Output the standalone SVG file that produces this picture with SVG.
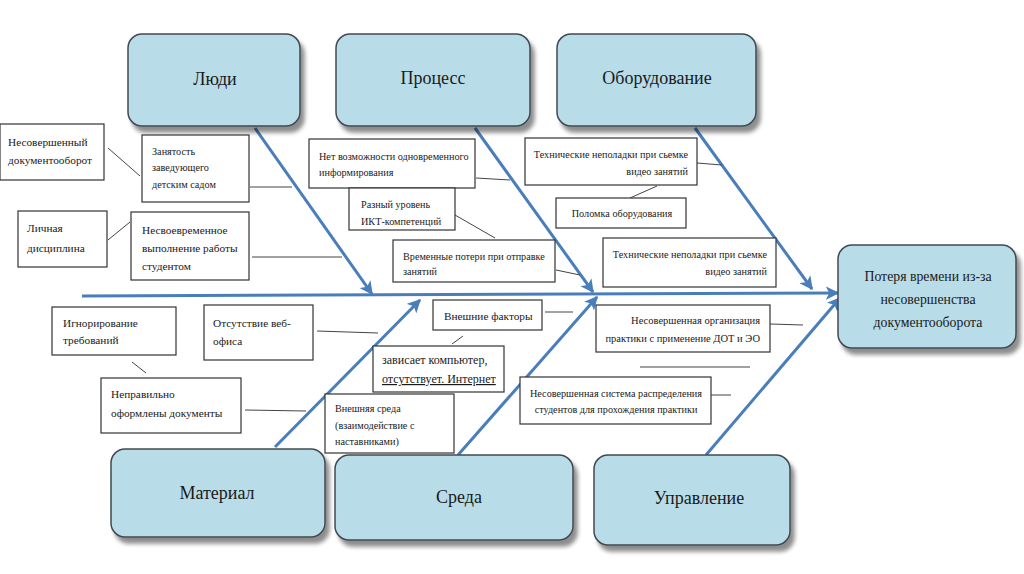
<svg xmlns="http://www.w3.org/2000/svg" width="1024" height="574" viewBox="0 0 1024 574" font-family="'Liberation Serif', 'Times New Roman', serif">
<defs>
<marker id="ah" viewBox="0 0 10 10" refX="9" refY="5" markerWidth="4.5" markerHeight="4.5" orient="auto" markerUnits="strokeWidth">
<path d="M0,0 L10,5 L0,10 L2.5,5 z" fill="#4a7ebb"/>
</marker>
<filter id="sh" x="-10%" y="-10%" width="130%" height="140%">
<feGaussianBlur in="SourceAlpha" stdDeviation="2"/>
<feOffset dx="4" dy="6" result="o"/>
<feComponentTransfer><feFuncA type="linear" slope="0.45"/></feComponentTransfer>
<feMerge><feMergeNode/><feMergeNode in="SourceGraphic"/></feMerge>
</filter>
</defs>
<style>
text{fill:#1a1a1a}
.cat{fill:#b8dce8;stroke:#404a50;stroke-width:1.5;filter:url(#sh)}
.ct{font-size:18px;text-anchor:middle}
.bx{fill:#fff;stroke:#333;stroke-width:1.2}
.t{font-size:11.3px}
.s{font-size:10.2px}
.r{text-anchor:end}
.m{text-anchor:middle}
.bone{stroke:#4a7ebb;stroke-width:3;fill:none;marker-end:url(#ah)}
.ln{stroke:#444;stroke-width:1;fill:none}
</style>
<rect width="1024" height="574" fill="#fff"/>

<g id="connectors">
<path class="bone" d="M82,296 L838,293"/>
<path class="bone" d="M255,128 L372,294"/>
<path class="bone" d="M475,128 L593,292"/>
<path class="bone" d="M695,128 L812,289"/>
<path class="bone" d="M275,447 L420,300"/>
<path class="bone" d="M458,455 L597,297"/>
<path class="bone" d="M706,455 L840,298"/>
<path class="ln" d="M108,148 L140,176"/>
<path class="ln" d="M250,187 L292,187"/>
<path class="ln" d="M108,240 L130,222"/>
<path class="ln" d="M252,257 L342,257"/>
<path class="ln" d="M476,178 L510,180"/>
<path class="ln" d="M455,215 L495,238"/>
<path class="ln" d="M556,270 L580,275"/>
<path class="ln" d="M697,163 L722,165"/>
<path class="ln" d="M657,186 L630,198"/>
<path class="ln" d="M132,362 L146,373"/>
<path class="ln" d="M317,331 L378,333"/>
<path class="ln" d="M245,410 L306,411"/>
<path class="ln" d="M545,312 L573,312"/>
<path class="ln" d="M452,344 L463,336"/>
<path class="ln" d="M770,324 L803,325"/>
<path class="ln" d="M640,367 L750,367"/>
<path class="ln" d="M711,395 L731,395"/>
</g>

<g id="cat-people"><rect class="cat" x="128" y="34" width="172" height="92" rx="14"/><text class="ct" font-family="Liberation Serif" x="215" y="85">Люди</text></g>
<g id="cat-process"><rect class="cat" x="336" y="34" width="194" height="92" rx="14"/><text class="ct" font-family="Liberation Serif" x="433" y="84">Процесс</text></g>
<g id="cat-equipment"><rect class="cat" x="557" y="34" width="199" height="92" rx="14"/><text class="ct" font-family="Liberation Serif" x="657" y="84">Оборудование</text></g>
<g id="cat-material"><rect class="cat" x="111" y="449" width="214" height="88" rx="14"/><text class="ct" font-family="Liberation Serif" x="217" y="499">Материал</text></g>
<g id="cat-env"><rect class="cat" x="335" y="455" width="238" height="85" rx="14"/><text class="ct" font-family="Liberation Serif" x="459" y="503">Среда</text></g>
<g id="cat-mgmt"><rect class="cat" x="594" y="455" width="196" height="90" rx="14"/><text class="ct" font-family="Liberation Serif" x="699" y="504">Управление</text></g>
<g id="result"><rect class="cat" x="838" y="245" width="178" height="103" rx="14"/>
<text class="ct" font-family="Liberation Serif" style="font-size:13.8px" x="928" y="281">Потеря времени из-за</text>
<text class="ct" font-family="Liberation Serif" style="font-size:13.8px" x="928" y="304">несовершенства</text>
<text class="ct" font-family="Liberation Serif" style="font-size:13.8px" x="928" y="327">документооборота</text></g>

<g id="b1"><rect class="bx" x="0" y="124" width="104" height="56"/><text class="t" font-family="Liberation Serif" x="8" y="146">Несовершенный</text><text class="t" font-family="Liberation Serif" x="8" y="164">документооборот</text></g>
<g id="b2"><rect class="bx" x="142" y="135" width="107" height="67"/><text class="s" font-family="Liberation Serif" x="152" y="155">Занятость</text><text class="s" font-family="Liberation Serif" x="152" y="171">заведующего</text><text class="s" font-family="Liberation Serif" x="152" y="188">детским садом</text></g>
<g id="b3"><rect class="bx" x="18" y="211" width="89" height="56"/><text class="t" font-family="Liberation Serif" x="27" y="232">Личная</text><text class="t" font-family="Liberation Serif" x="27" y="252">дисциплина</text></g>
<g id="b4"><rect class="bx" x="131" y="212" width="118" height="68"/><text class="t" font-family="Liberation Serif" x="142" y="234">Несвоевременное</text><text class="t" font-family="Liberation Serif" x="142" y="252">выполнение работы</text><text class="t" font-family="Liberation Serif" x="142" y="270">студентом</text></g>
<g id="b5"><rect class="bx" x="309" y="139" width="166" height="49"/><text class="s" font-family="Liberation Serif" x="319" y="160">Нет возможности одновременного</text><text class="s" font-family="Liberation Serif" x="319" y="176">информирования</text></g>
<g id="b6"><rect class="bx" x="349" y="188" width="106" height="42"/><text class="s" font-family="Liberation Serif" x="361" y="208">Разный уровень</text><text class="s" font-family="Liberation Serif" x="361" y="225">ИКТ-компетенций</text></g>
<g id="b7"><rect class="bx" x="393" y="240" width="162" height="42"/><text class="s" font-family="Liberation Serif" x="403" y="260">Временные потери при отправке</text><text class="s" font-family="Liberation Serif" x="403" y="275">занятий</text></g>
<g id="b8"><rect class="bx" x="525" y="138" width="172" height="47"/><text class="s r" font-family="Liberation Serif" x="688" y="158">Технические неполадки при сьемке</text><text class="s r" font-family="Liberation Serif" x="688" y="175">видео занятий</text></g>
<g id="b9"><rect class="bx" x="556" y="198" width="130" height="30"/><text class="s m" font-family="Liberation Serif" x="622" y="217">Поломка оборудования</text></g>
<g id="b10"><rect class="bx" x="603" y="238" width="173" height="49"/><text class="s r" font-family="Liberation Serif" x="767" y="258">Технические неполадки при сьемке</text><text class="s r" font-family="Liberation Serif" x="767" y="275">видео занятий</text></g>
<g id="b11"><rect class="bx" x="52" y="307" width="124" height="48"/><text class="t" font-family="Liberation Serif" x="63" y="327">Игнорирование</text><text class="t" font-family="Liberation Serif" x="63" y="344">требований</text></g>
<g id="b12"><rect class="bx" x="204" y="305" width="109" height="55"/><text class="t" font-family="Liberation Serif" x="213" y="327">Отсутствие веб-</text><text class="t" font-family="Liberation Serif" x="213" y="345">офиса</text></g>
<g id="b13"><rect class="bx" x="101" y="378" width="140" height="55"/><text class="t" font-family="Liberation Serif" x="111" y="398">Неправильно</text><text class="t" font-family="Liberation Serif" x="111" y="417">оформлены документы</text></g>
<g id="b14"><rect class="bx" x="433" y="300" width="109" height="30"/><text class="t" font-family="Liberation Serif" x="444" y="320">Внешние факторы</text></g>
<g id="b15"><rect class="bx" x="373" y="346" width="131" height="46"/><text class="t" font-family="Liberation Serif" style="font-size:12px" x="382" y="364">зависает компьютер,</text><text class="t" font-family="Liberation Serif" style="font-size:12px" x="382" y="383" text-decoration="underline">отсутствует. Интернет</text></g>
<g id="b16"><rect class="bx" x="325" y="394" width="129" height="59"/><text class="s" font-family="Liberation Serif" x="335" y="412">Внешняя среда</text><text class="s" font-family="Liberation Serif" x="335" y="429">(взаимодействие с</text><text class="s" font-family="Liberation Serif" x="335" y="445">наставниками)</text></g>
<g id="b17"><rect class="bx" x="596" y="305" width="174" height="47"/><text class="s r" font-family="Liberation Serif" style="font-size:10.5px" x="760" y="324">Несовершенная организация</text><text class="s r" font-family="Liberation Serif" style="font-size:10.5px" x="760" y="342">практики с применение ДОТ и ЭО</text></g>
<g id="b18"><rect class="bx" x="520" y="377" width="191" height="47"/><text class="s m" font-family="Liberation Serif" x="616" y="397">Несовершенная система распределения</text><text class="s m" font-family="Liberation Serif" x="616" y="413">студентов для прохождения практики</text></g>
</svg>
